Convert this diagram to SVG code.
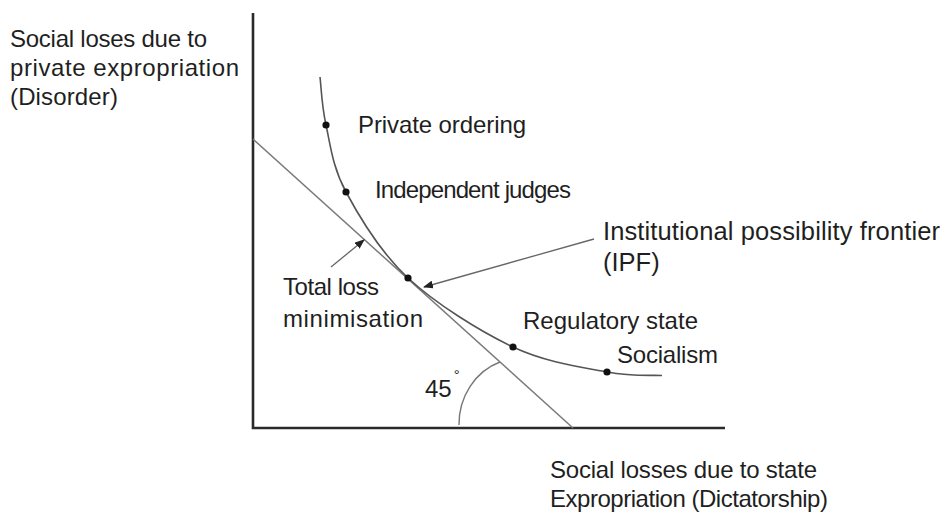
<svg xmlns="http://www.w3.org/2000/svg" width="944" height="515" viewBox="0 0 944 515">
  <defs>
    <marker id="arrowhead" viewBox="0 0 10 8" refX="9" refY="4" markerWidth="10" markerHeight="8" markerUnits="userSpaceOnUse" orient="auto">
      <path d="M0,0 L10,4 L0,8 Z" fill="#222"/>
    </marker>
    <style>
      text { font-family: "Liberation Sans", Arial, sans-serif; font-size: 24px; fill: #1f1f1f; }
      .big { font-size: 25.5px; }
      .axis { stroke: #2a2a2a; stroke-width: 2.6; fill: none; }
      .tangent { stroke: #7a7a7a; stroke-width: 1.5; fill: none; }
      .ipf { stroke: #555; stroke-width: 1.6; fill: none; }
      .pointer { stroke: #666; stroke-width: 1.3; fill: none; marker-end: url(#arrowhead); }
      .dot { fill: #111; }
      .angle { stroke: #777; stroke-width: 1.4; fill: none; }
    </style>
  </defs>
  <rect width="944" height="515" fill="#fff"/>

  <!-- axes -->
  <g id="axes">
    <path class="axis" d="M253,13 V428 H725"/>
  </g>

  <!-- axis titles -->
  <g id="y-axis-title">
    <text x="10" y="47" textLength="197" lengthAdjust="spacing">Social loses due to</text>
    <text x="10" y="76" textLength="229" lengthAdjust="spacing">private expropriation</text>
    <text x="10" y="105" textLength="108" lengthAdjust="spacing">(Disorder)</text>
  </g>
  <g id="x-axis-title">
    <text x="550" y="478" textLength="267" lengthAdjust="spacing">Social losses due to state</text>
    <text x="550" y="507" textLength="278" lengthAdjust="spacing">Expropriation (Dictatorship)</text>
  </g>

  <!-- 45-degree iso-loss line and its angle mark -->
  <g id="total-loss-line">
    <line class="tangent" x1="253" y1="139" x2="573" y2="428"/>
    <path class="angle" d="M459,425 A61,66 0 0 1 500,362"/>
    <text x="425" y="397">45<tspan dx="2" dy="-17" font-size="15">°</tspan></text>
  </g>

  <!-- institutional possibility frontier -->
  <g id="ipf-curve">
    <path class="ipf" d="M320,77 C321,85 321.7,105.8 326,125 C330.3,144.2 332.3,166.5 346,192 C359.7,217.5 380.2,252.2 408,278 C435.8,303.8 479.8,331.3 513,347 C546.2,362.7 582.5,367.3 607,372 C631.5,376.7 651.2,375 662,375.5"/>
  </g>

  <g id="private-ordering">
    <circle class="dot" cx="326" cy="125" r="3.6"/>
    <text x="358" y="133" textLength="168" lengthAdjust="spacing">Private ordering</text>
  </g>
  <g id="independent-judges">
    <circle class="dot" cx="346" cy="192" r="3.6"/>
    <text x="375" y="198" textLength="196" lengthAdjust="spacing">Independent judges</text>
  </g>
  <g id="total-loss-minimisation">
    <circle class="dot" cx="408" cy="278" r="3.6"/>
    <text x="283" y="295" textLength="96" lengthAdjust="spacing">Total loss</text>
    <text x="283" y="327" textLength="140" lengthAdjust="spacing">minimisation</text>
  </g>
  <g id="regulatory-state">
    <circle class="dot" cx="513" cy="347" r="3.6"/>
    <text x="523" y="329" textLength="175" lengthAdjust="spacing">Regulatory state</text>
  </g>
  <g id="socialism">
    <circle class="dot" cx="607" cy="372" r="3.6"/>
    <text x="617" y="363" textLength="101" lengthAdjust="spacing">Socialism</text>
  </g>
  <g id="ipf-label">
    <text class="big" x="603" y="240" textLength="337" lengthAdjust="spacing">Institutional possibility frontier</text>
    <text class="big" x="603" y="271">(IPF)</text>
  </g>

  <!-- label pointers -->
  <g id="connectors">
    <line class="pointer" x1="331" y1="267" x2="364" y2="240"/>
    <line class="pointer" x1="594" y1="239" x2="424" y2="287"/>
  </g>
</svg>
